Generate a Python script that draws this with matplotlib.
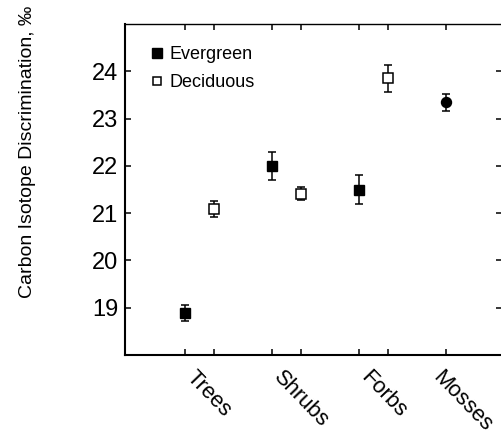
import matplotlib
matplotlib.use("Agg")
import matplotlib.pyplot as plt
import matplotlib.transforms as mtransforms
from matplotlib.lines import Line2D
import numpy as np

plt.rcParams['font.family'] = ['Liberation Sans', 'DejaVu Sans']

# data
categories = ['Trees', 'Shrubs', 'Forbs', 'Mosses']
evergreen_mean = [18.88, 22.0, 21.5]
evergreen_err = [0.17, 0.29, 0.31]
deciduous_mean = [21.09, 21.41, 23.85]
deciduous_err = [0.17, 0.14, 0.28]
mosses_mean = [23.34]
mosses_err = [0.17]
y_ticks = [19, 20, 21, 22, 23, 24]

idx = np.arange(len(categories))
off = 1 / 6
x_ever = idx[:3] - off
x_dec = idx[:3] + off
x_moss = idx[3:] - off

fig = plt.figure(figsize=(5.01, 4.34), dpi=100)
ax = fig.add_axes([125 / 501, 1 - 355 / 434, 377 / 501, 331 / 434])

eb = dict(ecolor='black', elinewidth=1.1, capsize=2.6, capthick=1.1, linestyle='none')
ax.errorbar(x_ever, evergreen_mean, yerr=evergreen_err, marker='s', ms=7.2,
            mfc='black', mec='black', **eb)
ax.errorbar(x_dec, deciduous_mean, yerr=deciduous_err, marker='s', ms=6.5,
            mfc='white', mec='black', mew=1.1, **eb)
ax.errorbar(x_moss, mosses_mean, yerr=mosses_err, marker='o', ms=7.2,
            mfc='black', mec='black', **eb)

ax.set_xlim(-off - 60 / 87, -off + 317 / 87)
ax.set_ylim(18, 25)
ax.set_yticks(y_ticks)
ax.set_xticks(np.concatenate([x_ever, x_dec, x_moss]))
ax.set_xticklabels([])
ax.tick_params(axis='both', direction='in', length=4, width=1.1,
               top=True, right=True, labelsize=17, pad=5)

for s in ['left', 'bottom']:
    ax.spines[s].set_linewidth(1.5)
for s in ['top', 'right']:
    ax.spines[s].set_linewidth(1.0)

# rotated category labels under each group
label_x = [x_ever[0] + off, x_ever[1] + off, x_ever[2] + off, x_moss[0]]
shift = mtransforms.ScaledTranslation(-2 / 100, -12 / 100, fig.dpi_scale_trans)
for lx, name in zip(label_x, categories):
    ax.text(lx, 0, name, transform=ax.get_xaxis_transform() + shift,
            rotation=-46, rotation_mode='anchor', ha='left', va='top', fontsize=15.8)

fig.text(28 / 501, 1 - 152 / 434, 'Carbon Isotope Discrimination, ‰',
         rotation=90, ha='center', va='center', fontsize=14)

handles = [
    Line2D([], [], ls='none', marker='s', ms=6.5, mfc='black', mec='black'),
    Line2D([], [], ls='none', marker='s', ms=6.0, mfc='white', mec='black', mew=1.1),
]
ax.legend(handles, ['Evergreen', 'Deciduous'], loc='upper left',
          bbox_to_anchor=(0.05, 0.955), frameon=False,
          fontsize=13, handlelength=0.7, handletextpad=0.3, labelspacing=0.6,
          borderaxespad=0)

fig.savefig('out.png', dpi=100)
